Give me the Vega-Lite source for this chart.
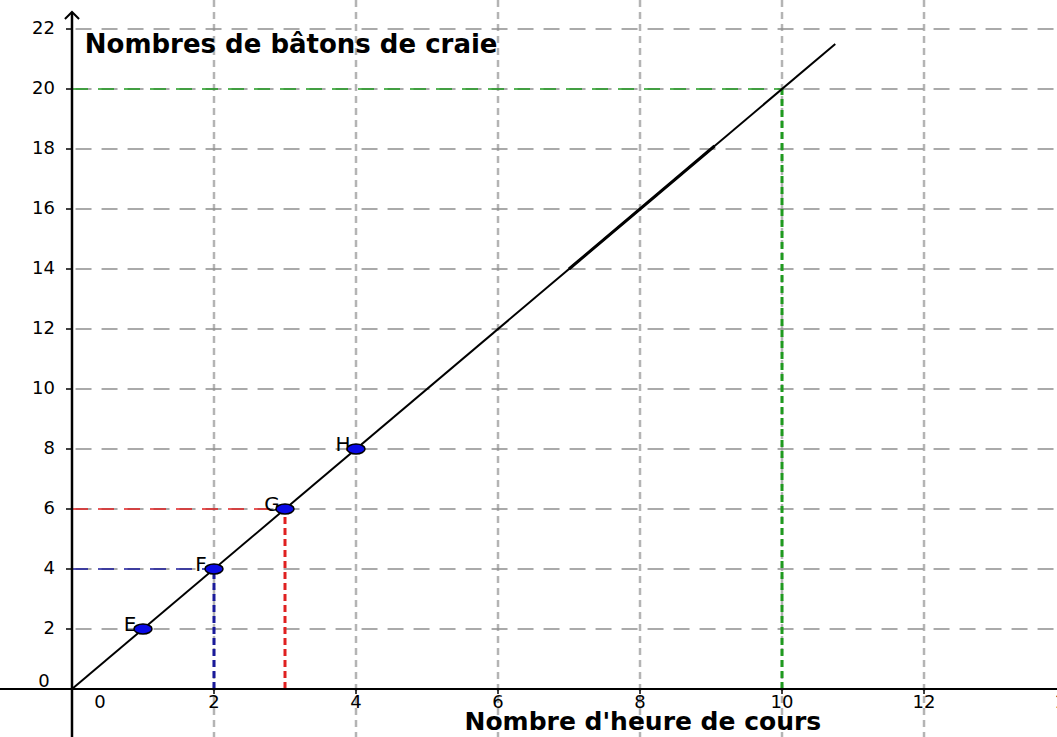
{
  "$schema": "https://vega.github.io/schema/vega-lite/v6.json",
  "width": 1057,
  "height": 737,
  "autosize": {"type": "none"},
  "padding": 0,
  "background": "white",
  "config": {"view": {"stroke": null}},
  "datasets": {
    "one": [{"k": 1}],
    "vgrid": [{"v": 2}, {"v": 4}, {"v": 6}, {"v": 8}, {"v": 10}, {"v": 12}],
    "hgrid": [{"v": 2}, {"v": 4}, {"v": 6}, {"v": 8}, {"v": 10}, {"v": 12}, {"v": 14}, {"v": 16}, {"v": 18}, {"v": 20}, {"v": 22}],
    "xlabels": [{"v": 2}, {"v": 4}, {"v": 6}, {"v": 8}, {"v": 10}, {"v": 12}, {"v": 14}],
    "refh": [
      {"x": 0, "x2": 10, "y": 20, "c": "green"},
      {"x": 0, "x2": 3, "y": 6, "c": "red"},
      {"x": 0, "x2": 2, "y": 4, "c": "blue"}
    ],
    "refv": [
      {"x": 10, "y": 0, "y2": 20, "c": "green"},
      {"x": 3, "y": 0, "y2": 6, "c": "red"},
      {"x": 2, "y": 0, "y2": 4, "c": "blue"}
    ],
    "line": [{"x": 0, "y": 0}, {"x": 10.75, "y": 21.5}],
    "line2": [{"x": 7, "y": 14}, {"x": 9.05, "y": 18.1}],
    "points": [
      {"name": "E", "x": 1, "y": 2},
      {"name": "F", "x": 2, "y": 4},
      {"name": "G", "x": 3, "y": 6},
      {"name": "H", "x": 4, "y": 8}
    ]
  },
  "layer": [
    {
      "data": {"name": "vgrid"},
      "mark": {"type": "rule", "stroke": "#b4b4b4", "strokeWidth": 2.5, "strokeDash": [7, 5]},
      "encoding": {
        "x": {"field": "v", "type": "quantitative", "axis": null, "scale": {"domain": [-1.014, 13.873], "nice": false, "zero": false}}
      }
    },
    {
      "data": {"name": "hgrid"},
      "mark": {"type": "rule", "stroke": "#8f8f8f", "strokeWidth": 1.6, "strokeDash": [16, 10]},
      "encoding": {
        "x": {"datum": 0.05, "type": "quantitative", "axis": null, "scale": {"domain": [-1.014, 13.873], "nice": false, "zero": false}},
        "x2": {"datum": 13.9},
        "y": {"field": "v", "type": "quantitative", "axis": null, "scale": {"domain": [-1.6, 22.967], "nice": false, "zero": false}}
      }
    },
    {
      "data": {"name": "refh"},
      "mark": {"type": "rule", "strokeWidth": 1.6, "strokeDash": [16, 10]},
      "encoding": {
        "x": {"field": "x", "type": "quantitative", "axis": null, "scale": {"domain": [-1.014, 13.873], "nice": false, "zero": false}},
        "x2": {"field": "x2"},
        "y": {"field": "y", "type": "quantitative", "axis": null, "scale": {"domain": [-1.6, 22.967], "nice": false, "zero": false}},
        "color": {"field": "c", "type": "nominal", "legend": null, "scale": {"domain": ["green", "red", "blue"], "range": ["#1f9a1f", "#e02020", "#1a1a9a"]}}
      }
    },
    {
      "data": {"name": "refv"},
      "mark": {"type": "rule", "strokeWidth": 3, "strokeDash": [7, 4]},
      "encoding": {
        "x": {"field": "x", "type": "quantitative", "axis": null, "scale": {"domain": [-1.014, 13.873], "nice": false, "zero": false}},
        "y": {"field": "y", "type": "quantitative", "axis": null, "scale": {"domain": [-1.6, 22.967], "nice": false, "zero": false}},
        "y2": {"field": "y2"},
        "color": {"field": "c", "type": "nominal", "legend": null, "scale": {"domain": ["green", "red", "blue"], "range": ["#1f9a1f", "#e8141a", "#1414d8"]}}
      }
    },
    {
      "data": {"name": "one"},
      "mark": {"type": "rule", "stroke": "black", "strokeWidth": 2},
      "encoding": {
        "x": {"datum": -1.1, "type": "quantitative", "axis": null, "scale": {"domain": [-1.014, 13.873], "nice": false, "zero": false}},
        "x2": {"datum": 14},
        "y": {"datum": 0, "type": "quantitative", "axis": null, "scale": {"domain": [-1.6, 22.967], "nice": false, "zero": false}}
      }
    },
    {
      "data": {"name": "one"},
      "mark": {"type": "rule", "stroke": "black", "strokeWidth": 2.5},
      "encoding": {
        "x": {"datum": 0, "type": "quantitative", "axis": null, "scale": {"domain": [-1.014, 13.873], "nice": false, "zero": false}},
        "y": {"datum": -1.7, "type": "quantitative", "axis": null, "scale": {"domain": [-1.6, 22.967], "nice": false, "zero": false}},
        "y2": {"datum": 22.55}
      }
    },
    {
      "data": {"name": "one"},
      "mark": {"type": "point", "shape": "M-1,0.5L0,-0.5L1,0.5", "filled": false, "stroke": "black", "strokeWidth": 2, "size": 200, "opacity": 1},
      "encoding": {
        "x": {"datum": 0, "type": "quantitative", "axis": null, "scale": {"domain": [-1.014, 13.873], "nice": false, "zero": false}},
        "y": {"datum": 22.45, "type": "quantitative", "axis": null, "scale": {"domain": [-1.6, 22.967], "nice": false, "zero": false}}
      }
    },
    {
      "data": {"name": "vgrid"},
      "mark": {"type": "point", "shape": "M0,0L0,1", "filled": false, "stroke": "black", "strokeWidth": 1.5, "size": 100, "opacity": 1},
      "encoding": {
        "x": {"field": "v", "type": "quantitative", "axis": null, "scale": {"domain": [-1.014, 13.873], "nice": false, "zero": false}},
        "y": {"datum": 0, "type": "quantitative", "axis": null, "scale": {"domain": [-1.6, 22.967], "nice": false, "zero": false}}
      }
    },
    {
      "data": {"name": "hgrid"},
      "mark": {"type": "point", "shape": "M0,0L-1,0", "filled": false, "stroke": "black", "strokeWidth": 1.5, "size": 144, "opacity": 1},
      "encoding": {
        "x": {"datum": 0, "type": "quantitative", "axis": null, "scale": {"domain": [-1.014, 13.873], "nice": false, "zero": false}},
        "y": {"field": "v", "type": "quantitative", "axis": null, "scale": {"domain": [-1.6, 22.967], "nice": false, "zero": false}}
      }
    },
    {
      "data": {"name": "line"},
      "mark": {"type": "line", "stroke": "black", "strokeWidth": 2},
      "encoding": {
        "x": {"field": "x", "type": "quantitative", "axis": null, "scale": {"domain": [-1.014, 13.873], "nice": false, "zero": false}},
        "y": {"field": "y", "type": "quantitative", "axis": null, "scale": {"domain": [-1.6, 22.967], "nice": false, "zero": false}}
      }
    },
    {
      "data": {"name": "line2"},
      "mark": {"type": "line", "stroke": "black", "strokeWidth": 3},
      "encoding": {
        "x": {"field": "x", "type": "quantitative", "axis": null, "scale": {"domain": [-1.014, 13.873], "nice": false, "zero": false}},
        "y": {"field": "y", "type": "quantitative", "axis": null, "scale": {"domain": [-1.6, 22.967], "nice": false, "zero": false}}
      }
    },
    {
      "data": {"name": "points"},
      "mark": {"type": "text", "font": "DejaVu Sans", "fontSize": 20, "dx": -13, "dy": -4, "align": "center", "baseline": "middle", "color": "black"},
      "encoding": {
        "x": {"field": "x", "type": "quantitative", "axis": null, "scale": {"domain": [-1.014, 13.873], "nice": false, "zero": false}},
        "y": {"field": "y", "type": "quantitative", "axis": null, "scale": {"domain": [-1.6, 22.967], "nice": false, "zero": false}},
        "text": {"field": "name"}
      }
    },
    {
      "data": {"name": "points"},
      "mark": {"type": "point", "shape": "M-1,0A1,0.55,0,1,0,1,0A1,0.55,0,1,0,-1,0Z", "filled": true, "fill": "#0a0ae6", "stroke": "black", "strokeWidth": 1.5, "size": 324, "opacity": 1},
      "encoding": {
        "x": {"field": "x", "type": "quantitative", "axis": null, "scale": {"domain": [-1.014, 13.873], "nice": false, "zero": false}},
        "y": {"field": "y", "type": "quantitative", "axis": null, "scale": {"domain": [-1.6, 22.967], "nice": false, "zero": false}}
      }
    },
    {
      "data": {"name": "hgrid"},
      "mark": {"type": "text", "font": "DejaVu Sans", "fontSize": 18, "dx": -17, "align": "right", "baseline": "middle", "color": "black"},
      "encoding": {
        "x": {"datum": 0, "type": "quantitative", "axis": null, "scale": {"domain": [-1.014, 13.873], "nice": false, "zero": false}},
        "y": {"field": "v", "type": "quantitative", "axis": null, "scale": {"domain": [-1.6, 22.967], "nice": false, "zero": false}},
        "text": {"field": "v", "type": "quantitative"}
      }
    },
    {
      "data": {"name": "xlabels"},
      "mark": {"type": "text", "font": "DejaVu Sans", "fontSize": 18, "dy": 14, "align": "center", "baseline": "middle", "color": "black"},
      "encoding": {
        "x": {"field": "v", "type": "quantitative", "axis": null, "scale": {"domain": [-1.014, 13.873], "nice": false, "zero": false}},
        "y": {"datum": 0, "type": "quantitative", "axis": null, "scale": {"domain": [-1.6, 22.967], "nice": false, "zero": false}},
        "text": {"field": "v", "type": "quantitative"}
      }
    },
    {
      "data": {"name": "one"},
      "mark": {"type": "text", "font": "DejaVu Sans", "fontSize": 18, "dx": 28, "dy": 14, "align": "center", "baseline": "middle", "color": "black"},
      "encoding": {
        "x": {"datum": 0, "type": "quantitative", "axis": null, "scale": {"domain": [-1.014, 13.873], "nice": false, "zero": false}},
        "y": {"datum": 0, "type": "quantitative", "axis": null, "scale": {"domain": [-1.6, 22.967], "nice": false, "zero": false}},
        "text": {"value": "0"}
      }
    },
    {
      "data": {"name": "one"},
      "mark": {"type": "text", "font": "DejaVu Sans", "fontSize": 18, "dx": -28, "dy": -7, "align": "center", "baseline": "middle", "color": "black"},
      "encoding": {
        "x": {"datum": 0, "type": "quantitative", "axis": null, "scale": {"domain": [-1.014, 13.873], "nice": false, "zero": false}},
        "y": {"datum": 0, "type": "quantitative", "axis": null, "scale": {"domain": [-1.6, 22.967], "nice": false, "zero": false}},
        "text": {"value": "0"}
      }
    },
    {
      "data": {"name": "one"},
      "mark": {"type": "text", "font": "DejaVu Sans", "fontWeight": "bold", "fontSize": 26, "align": "left", "baseline": "middle", "color": "black"},
      "encoding": {
        "x": {"datum": 0.18, "type": "quantitative", "axis": null, "scale": {"domain": [-1.014, 13.873], "nice": false, "zero": false}},
        "y": {"datum": 21.47, "type": "quantitative", "axis": null, "scale": {"domain": [-1.6, 22.967], "nice": false, "zero": false}},
        "text": {"value": "Nombres de bâtons de craie"}
      }
    },
    {
      "data": {"name": "one"},
      "mark": {"type": "text", "font": "DejaVu Sans", "fontWeight": "bold", "fontSize": 25, "align": "center", "baseline": "alphabetic", "color": "black"},
      "encoding": {
        "x": {"datum": 8.04, "type": "quantitative", "axis": null, "scale": {"domain": [-1.014, 13.873], "nice": false, "zero": false}},
        "y": {"datum": -1.36, "type": "quantitative", "axis": null, "scale": {"domain": [-1.6, 22.967], "nice": false, "zero": false}},
        "text": {"value": "Nombre d'heure de cours"}
      }
    }
  ]
}
